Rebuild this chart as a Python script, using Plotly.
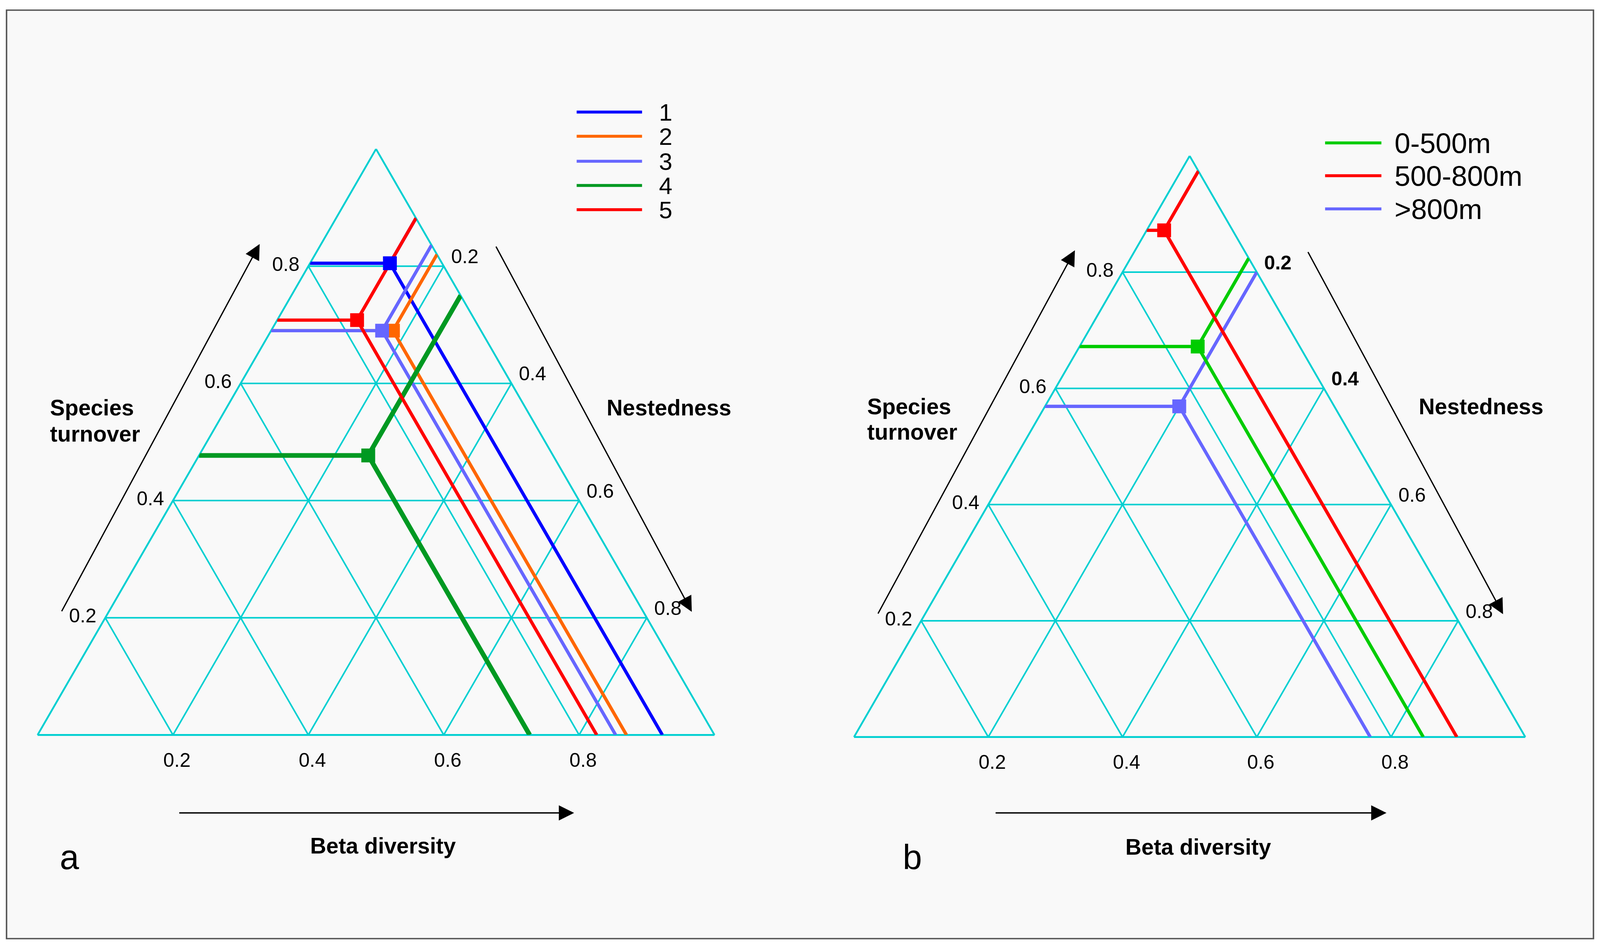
import plotly.graph_objects as go

W, H = 4406, 2428          # reference picture size (all positions below are in these pixels)
S = 1.073                   # reference pixels per CSS pixel (viewport is ~4106 CSS px wide)
CW, CH = round(W / S), H
TRI = 1.035                 # small enlargement of the triangles (viewport is relatively taller)

# ---------------- data ----------------
# Panel a: groups 1-5
groups_a = ["1", "2", "3", "4", "5"]
turnover_a = [0.805, 0.690, 0.690, 0.477, 0.708]
nestedness_a = [0.118, 0.180, 0.164, 0.250, 0.118]
colors_a = ["#0000ff", "#ff6600", "#6666ff", "#009922", "#ff0000"]
widths_a = [9, 9, 9, 13, 9]

# Panel b: altitude bands
groups_b = ["0-500m", "500-800m", ">800m"]
turnover_b = [0.672, 0.872, 0.569]
nestedness_b = [0.176, 0.026, 0.200]
colors_b = ["#00cc00", "#ff0000", "#6666ff"]
widths_b = [9, 9, 9]

tick_vals = [0.2, 0.4, 0.6, 0.8]
tick_text = ["0.2", "0.4", "0.6", "0.8"]
beta_tick_vals = [0.8, 0.6, 0.4, 0.2]          # similarity (b) positions
beta_tick_text = ["0.2", "0.4", "0.6", "0.8"]  # beta diversity = 1 - b
nest_text_b = ["<b>0.2</b>", "<b>0.4</b>", "0.6", "0.8"]

FONT = "Liberation Sans, Arial, sans-serif"
GRID = "#00cfd1"


def p(v):
    """reference pixels -> CSS pixels"""
    return v / S


fig = go.Figure()

# invisible cartesian layer spanning the whole page (reference pixel coordinates)
fig.add_trace(go.Scatter(x=[None], y=[None], mode="markers", hoverinfo="skip",
                         showlegend=False, xaxis="x", yaxis="y"))


def add_series(T, N, color, width, name, subplot):
    # a = turnover, b = similarity (1 - beta), c = nestedness
    a = [T, T, 1 - N, T, 0]
    b = [1 - T, 1 - T - N, 0, 1 - T - N, 1 - T - N]
    c = [0, N, N, N, T + N]
    fig.add_trace(go.Scatterternary(
        a=a, b=b, c=c, mode="lines", subplot=subplot, name=name,
        line=dict(color=color, width=p(width)), hoverinfo="skip", showlegend=False))


def add_marker(T, N, color, name, subplot):
    fig.add_trace(go.Scatterternary(
        a=[T], b=[1 - T - N], c=[N], mode="markers", subplot=subplot, name=name,
        marker=dict(symbol="square", size=p(38), color=color, line=dict(width=0)),
        hoverinfo="skip", showlegend=False))


order_a = [0, 1, 2, 3, 4]
for i in order_a:
    add_series(turnover_a[i], nestedness_a[i], colors_a[i], widths_a[i], groups_a[i], "ternary")
for i in order_a:
    add_marker(turnover_a[i], nestedness_a[i], colors_a[i], groups_a[i], "ternary")

order_b = [2, 0, 1]
for i in order_b:
    add_series(turnover_b[i], nestedness_b[i], colors_b[i], widths_b[i], groups_b[i], "ternary2")
for i in order_b:
    add_marker(turnover_b[i], nestedness_b[i], colors_b[i], groups_b[i], "ternary2")


def axis(vals, text, ticklen=14):
    return dict(
        min=0, tickmode="array", tickvals=vals, ticktext=text,
        showgrid=True, gridcolor=GRID, gridwidth=p(4),
        showline=True, linecolor=GRID, linewidth=p(5),
        ticks="outside", ticklen=p(ticklen), tickcolor="rgba(0,0,0,0)",
        tickfont=dict(family=FONT, size=p(54), color="black"),
        title=dict(text=""), layer="below traces")


def tern(x0, x1, ytop, ybot, nest_text):
    cx, cy = (x0 + x1) / 2, (ytop + ybot) / 2
    hw, hh = (x1 - x0) / 2 * TRI, (ybot - ytop) / 2 * TRI
    return dict(
        domain=dict(x=[(cx - hw) / W, (cx + hw) / W],
                    y=[max(0, 1 - (cy + hh) / H), min(1, 1 - (cy - hh) / H)]),
        sum=1, bgcolor="rgba(0,0,0,0)",
        aaxis=axis(tick_vals, tick_text, 16),
        baxis=axis(beta_tick_vals, beta_tick_text, 22),
        caxis=axis(tick_vals, nest_text, 24))


shapes = [dict(type="rect", xref="x", yref="y", x0=18, x1=4388, y0=26, y1=2404,
               line=dict(color="#555555", width=p(4)), fillcolor="#f9f9f9", layer="below")]

annotations = []


def text(x, y, s, size=60, bold=True, xanchor="left"):
    annotations.append(dict(
        x=x, y=y, xref="x", yref="y", showarrow=False,
        text=("<b>%s</b>" % s) if bold else s, xanchor=xanchor, yanchor="middle",
        font=dict(family=FONT, size=p(size), color="black")))


def arrow(tx, ty, hx, hy):
    annotations.append(dict(
        x=hx, y=hy, xref="x", yref="y", text="",
        showarrow=True, ax=tx, ay=ty, axref="x", ayref="y",
        arrowhead=2, arrowsize=2.4, arrowwidth=p(3.5), arrowcolor="black", standoff=0))


# Panel a titles
text(135, 1044, "Species", 61)
text(135, 1111, "turnover", 61)
text(1668, 1044, "Nestedness", 61)
text(1055, 2166, "Beta diversity", 61, xanchor="center")
text(191, 2195, "a", size=95, bold=False, xanchor="center")
arrow(169, 1567, 715, 625)
arrow(1365, 630, 1905, 1567)
arrow(492, 2082, 1581, 2082)

# Panel b titles
text(2386, 1041, "Species", 61)
text(2386, 1106, "turnover", 61)
text(3905, 1041, "Nestedness", 61)
text(3300, 2169, "Beta diversity", 61, xanchor="center")
text(2512, 2195, "b", size=95, bold=False, xanchor="center")
arrow(2417, 1573, 2960, 641)
arrow(3601, 644, 4139, 1573)
arrow(2740, 2082, 3818, 2082)

# Legends (drawn manually)
leg_a_y = [287, 349, 413, 475, 537]
for i, g in enumerate(groups_a):
    shapes.append(dict(type="line", xref="x", yref="y",
                       x0=1588, x1=1768, y0=leg_a_y[i], y1=leg_a_y[i],
                       line=dict(color=colors_a[i], width=p(8))))
    text(1812, leg_a_y[i], g, size=66, bold=False)

leg_b_y = [366, 450, 535]
for i, g in enumerate(groups_b):
    shapes.append(dict(type="line", xref="x", yref="y",
                       x0=3649, x1=3804, y0=leg_b_y[i], y1=leg_b_y[i],
                       line=dict(color=colors_b[i], width=p(8))))
    text(3838, leg_b_y[i], g, size=78, bold=False)

fig.update_layout(
    width=CW, height=CH, margin=dict(l=0, r=0, t=0, b=0),
    paper_bgcolor="white", plot_bgcolor="rgba(0,0,0,0)", showlegend=False,
    xaxis=dict(domain=[0, 1], range=[0, W], visible=False, fixedrange=True),
    yaxis=dict(domain=[0, 1], range=[H, 0], visible=False, fixedrange=True),
    ternary=tern(135, 1936, 351, 1913, tick_text),
    ternary2=tern(2383, 4169, 370, 1917, nest_text_b),
    shapes=shapes, annotations=annotations,
    font=dict(family=FONT, color="black"))

post = (
    "document.body.style.margin='0';"
    "document.body.style.overflow='hidden';"
    "var gd=document.getElementById('{plot_id}');"
    "Plotly.relayout(gd,{width:window.innerWidth,height:window.innerHeight});"
)
fig.write_html("out.html", post_script=post, config={"displayModeBar": False})
